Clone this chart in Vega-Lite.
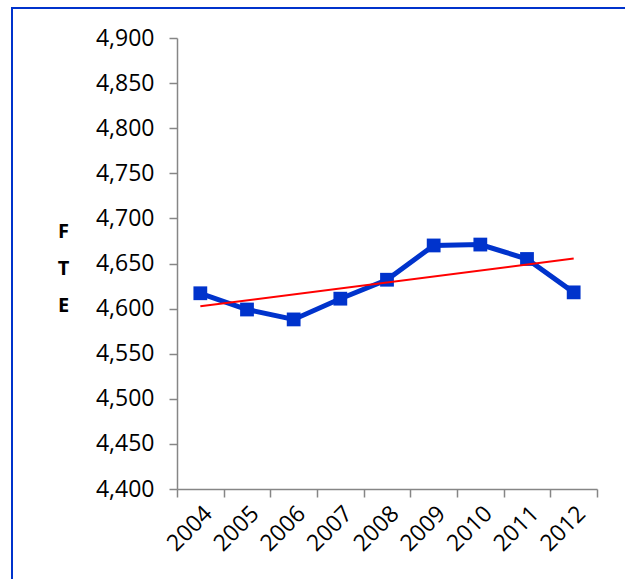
{
  "$schema": "https://vega.github.io/schema/vega-lite/v6.json",
  "autosize": {"type": "none"},
  "padding": {"left": 12, "top": 8, "right": 0, "bottom": 0},
  "width": 614,
  "height": 572,
  "background": "white",
  "config": {
    "view": {"stroke": "#0033CC", "strokeWidth": 2},
    "font": "Open Sans"
  },
  "data": {
    "values": [
      {"year": 2004, "fte": 4617},
      {"year": 2005, "fte": 4599},
      {"year": 2006, "fte": 4588},
      {"year": 2007, "fte": 4611},
      {"year": 2008, "fte": 4632},
      {"year": 2009, "fte": 4670},
      {"year": 2010, "fte": 4671},
      {"year": 2011, "fte": 4655},
      {"year": 2012, "fte": 4618}
    ]
  },
  "encoding": {
    "x": {
      "field": "year",
      "type": "ordinal",
      "scale": {"type": "band", "paddingInner": 0, "paddingOuter": 0, "range": [165, 585]},
      "axis": {
        "orient": "bottom",
        "offset": -91,
        "domain": true,
        "domainColor": "#868686",
        "domainWidth": 1.5,
        "grid": false,
        "tickBand": "extent",
        "tickSize": 8,
        "tickColor": "#868686",
        "tickWidth": 1.5,
        "labelAngle": -45,
        "labelFontSize": 23,
        "labelColor": "black",
        "labelPadding": 5,
        "title": null
      }
    },
    "y": {
      "field": "fte",
      "type": "quantitative",
      "scale": {"domain": [4400, 4900], "nice": false, "zero": false, "range": [481, 30]},
      "axis": {
        "values": [4400, 4450, 4500, 4550, 4600, 4650, 4700, 4750, 4800, 4850, 4900],
        "format": ",d",
        "offset": -165,
        "domain": true,
        "domainColor": "#868686",
        "domainWidth": 1.5,
        "grid": false,
        "tickSize": 8,
        "tickColor": "#868686",
        "tickWidth": 1.5,
        "labelFontSize": 23,
        "labelColor": "black",
        "labelPadding": 15,
        "title": ["F", "T", "E"],
        "titleAngle": 0,
        "titleFontSize": 20,
        "titleFontWeight": "bold",
        "titleColor": "black",
        "titleLineHeight": 37,
        "titleAlign": "center",
        "titleBaseline": "middle",
        "titleX": -114,
        "titleY": 223
      }
    }
  },
  "layer": [
    {
      "mark": {"type": "line", "color": "#0033CC", "strokeWidth": 5}
    },
    {
      "mark": {"type": "point", "shape": "square", "filled": true, "size": 190, "color": "#0033CC", "opacity": 1}
    },
    {
      "transform": [{"regression": "fte", "on": "year"}],
      "mark": {"type": "line", "color": "#FF0000", "strokeWidth": 2}
    }
  ]
}
